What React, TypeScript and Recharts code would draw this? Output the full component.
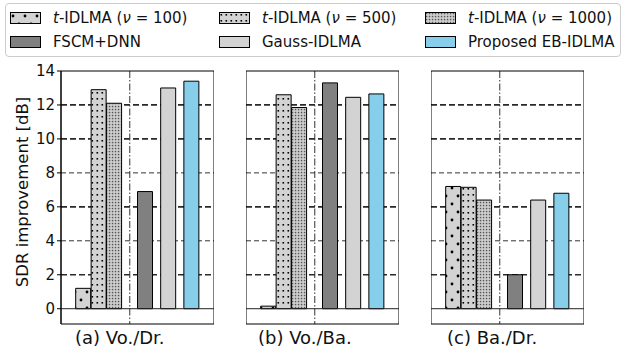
import React from "react";
import { Bar, BarChart, CartesianGrid, Cell, ReferenceArea, ReferenceLine, XAxis, YAxis } from "recharts";

// bar order inside each panel
const methodKeys = ["t100", "t500", "t1000", "fscm", "gauss", "proposed"];
const xSlots = [1.45, 2.45, 3.45, 5.45, 6.95, 8.45];

const voDr = [1.2, 12.9, 12.1, 6.9, 13.0, 13.4];
const voBa = [0.15, 12.6, 11.85, 13.3, 12.45, 12.65];
const baDr = [7.2, 7.15, 6.4, 2.0, 6.4, 6.8];

const panelLabels = ["(a) Vo./Dr.", "(b) Vo./Ba.", "(c) Ba./Dr."];
const yTicks = [0, 2, 4, 6, 8, 10, 12, 14];
const heavyGrid = [2, 6, 10, 12];
const lightGrid = [4, 8];
const splitX = [4.45];

const FILLS: Record<string, string> = {
  t100: "url(#hatch100)",
  t500: "url(#hatch500)",
  t1000: "url(#hatch1000)",
  fscm: "#808080",
  gauss: "#d3d3d3",
  proposed: "#87ceeb",
};

const FONT = "'DejaVu Sans', sans-serif";
const X_DOMAIN: [number, number] = [0, 9.9];
const Y_DOMAIN: [number, number] = [-0.9, 14];

function Hatches() {
  return (
    <svg width={0} height={0} style={{ position: "absolute" }}>
      <defs>
        <pattern id="hatch100" width={12} height={16} patternUnits="userSpaceOnUse">
          <rect width={12} height={16} fill="#d3d3d3" />
          <circle cx={3} cy={4} r={1.4} fill="#000" />
          <circle cx={9} cy={12} r={1.4} fill="#000" />
        </pattern>
        <pattern id="hatch500" width={5} height={6} patternUnits="userSpaceOnUse">
          <rect width={5} height={6} fill="#d3d3d3" />
          <rect x={1.5} y={2} width={1.6} height={1.6} fill="#000" />
        </pattern>
        <pattern id="hatch1000" width={3} height={3} patternUnits="userSpaceOnUse">
          <rect width={3} height={3} fill="#d3d3d3" />
          <rect x={0.8} y={0.8} width={1.5} height={1.5} fill="#555" />
        </pattern>
      </defs>
    </svg>
  );
}

function Panel({ values, left, width, showAxis }: { values: number[]; left: number; width: number; showAxis: boolean }) {
  const data = methodKeys.map((key, i) => ({ key, x: xSlots[i], v: values[i] }));
  return (
    <div style={{ position: "absolute", left, top: 0 }}>
      <BarChart width={width} height={350} data={data} margin={{ top: 71, right: 0, bottom: 26, left: 0 }}>
        <CartesianGrid horizontalValues={heavyGrid} vertical={false} stroke="#2a2a2a" strokeWidth={1.7} strokeDasharray="6 3" />
        <CartesianGrid horizontalValues={lightGrid} vertical={false} stroke="#333" strokeWidth={1} strokeDasharray="5 3" />
        <CartesianGrid verticalValues={splitX} horizontal={false} stroke="#333" strokeWidth={1} strokeDasharray="7 2 1.5 2" />
        <XAxis dataKey="x" type="number" domain={X_DOMAIN} hide />
        <YAxis
          type="number"
          domain={Y_DOMAIN}
          ticks={yTicks}
          hide={!showAxis}
          width={61}
          interval={0}
          axisLine={{ stroke: "#000" }}
          tickLine={{ stroke: "#000" }}
          tickSize={4}
          tick={{ fill: "#111", fontSize: 15, fontFamily: FONT }}
        />
        <Bar dataKey="v" barSize={15} stroke="#000" strokeWidth={1} isAnimationActive={false}>
          {data.map((d) => (
            <Cell key={d.key} fill={FILLS[d.key]} />
          ))}
        </Bar>
        <ReferenceLine y={0} stroke="#222" strokeWidth={1} />
        <ReferenceArea x1={X_DOMAIN[0]} x2={X_DOMAIN[1]} y1={Y_DOMAIN[0]} y2={Y_DOMAIN[1]} fill="none" stroke="#000" strokeWidth={1} />
      </BarChart>
    </div>
  );
}

const legendItems = [
  { key: "t100", label: <><i>t</i>-IDLMA (<i>ν</i> = 100)</>, col: 0, row: 0 },
  { key: "t500", label: <><i>t</i>-IDLMA (<i>ν</i> = 500)</>, col: 1, row: 0 },
  { key: "t1000", label: <><i>t</i>-IDLMA (<i>ν</i> = 1000)</>, col: 2, row: 0 },
  { key: "fscm", label: <>FSCM+DNN</>, col: 0, row: 1 },
  { key: "gauss", label: <>Gauss-IDLMA</>, col: 1, row: 1 },
  { key: "proposed", label: <>Proposed EB-IDLMA</>, col: 2, row: 1 },
];
const legendCols = [10, 219, 425];

export default function App() {
  return (
    <div style={{ position: "absolute", left: 0, top: 0, width: 626, height: 350, background: "#fff", fontFamily: FONT, color: "#111" }}>
      <Hatches />
      <div
        style={{
          position: "absolute",
          left: 5,
          top: 3,
          width: 614,
          height: 52,
          border: "1px solid #ccc",
          borderRadius: 4,
        }}
      />
      {legendItems.map((item) => (
        <div
          key={item.key}
          style={{
            position: "absolute",
            left: legendCols[item.col],
            top: item.row === 0 ? 9 : 33,
            height: 18,
            display: "flex",
            alignItems: "center",
            fontSize: 15,
            whiteSpace: "nowrap",
          }}
        >
          <svg width={31} height={12} style={{ marginRight: 12 }}>
            <rect x={0.5} y={0.5} width={30} height={11} fill={FILLS[item.key]} stroke="#000" strokeWidth={1} />
          </svg>
          <span>{item.label}</span>
        </div>
      ))}

      <div
        style={{
          position: "absolute",
          left: 22,
          top: 192,
          transform: "translate(-50%, -50%) rotate(-90deg)",
          fontSize: 16.5,
          whiteSpace: "nowrap",
        }}
      >
        SDR improvement [dB]
      </div>

      <Panel values={voDr} left={0} width={214} showAxis />
      <Panel values={voBa} left={246} width={153} showAxis={false} />
      <Panel values={baDr} left={431} width={153} showAxis={false} />

      {panelLabels.map((label, i) => (
        <div
          key={label}
          style={{ position: "absolute", left: [75, 258, 447][i], top: 327, fontSize: 18, whiteSpace: "nowrap" }}
        >
          {label}
        </div>
      ))}
    </div>
  );
}
